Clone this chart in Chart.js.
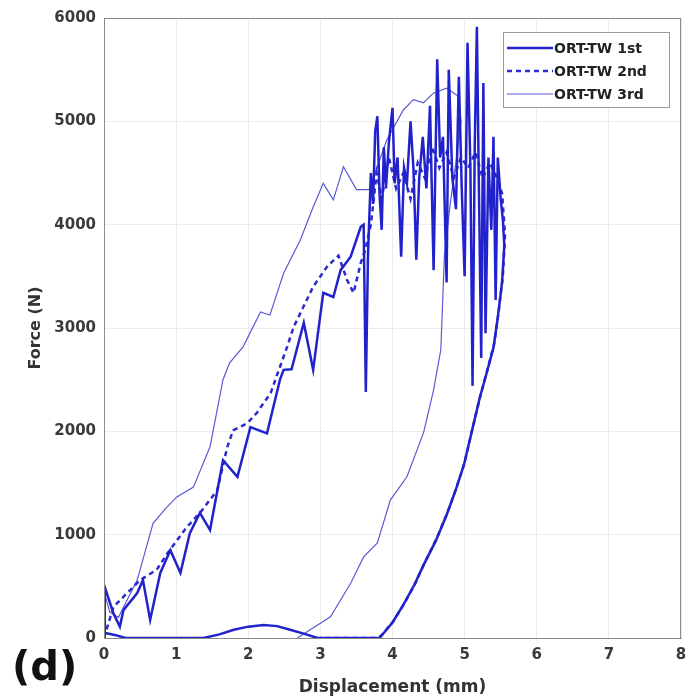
<!DOCTYPE html>
<html>
<head>
<meta charset="utf-8">
<script src="https://cdn.jsdelivr.net/npm/chart.js@4.4.0/dist/chart.umd.min.js"></script>
<style>
  html, body { margin: 0; padding: 0; background: #fff; }
  #wrap { width: 686px; height: 698px; position: relative; }
</style>
</head>
<body>
<div id="wrap"><canvas id="chart" width="686" height="698"></canvas></div>
<script>
// ORT-TW 1st (solid)
const disp1 = [0, 0.01, 0.13, 0.22, 0.27, 0.46, 0.54, 0.64, 0.78, 0.92, 1.06, 1.19, 1.33, 1.47, 1.65, 1.85, 2.03, 2.26, 2.44, 2.49, 2.6, 2.77, 2.9, 3.04, 3.18, 3.28, 3.42, 3.56,
  3.60, 3.63, 3.66, 3.70, 3.73, 3.76, 3.79, 3.82, 3.85, 3.88, 3.91, 3.95, 4.00, 4.03, 4.07, 4.12, 4.16, 4.20, 4.25, 4.29, 4.33, 4.37, 4.42, 4.47, 4.52, 4.57,
  4.62, 4.66, 4.70, 4.75, 4.78, 4.83, 4.88, 4.92, 4.96, 5.00, 5.04, 5.08, 5.11, 5.14, 5.17, 5.20, 5.23, 5.26, 5.29, 5.33, 5.37, 5.40, 5.43, 5.46, 5.50, 5.53, 5.55,
  5.52, 5.46, 5.40, 5.30, 5.21, 5.10, 4.99, 4.87, 4.75, 4.60, 4.43, 4.30, 4.15, 4.00, 3.82,
  2.96, 2.78, 2.58, 2.40, 2.21, 2.00, 1.80, 1.60, 1.38, 0.30, 0.15, 0];
const force1 = [0, 495, 240, 110, 270, 435, 560, 175, 630, 850, 630, 1015, 1210, 1045, 1720, 1560, 2040, 1980, 2500, 2595, 2600, 3050, 2595, 3340, 3300, 3560, 3690, 3980,
  4000, 2380, 3700, 4500, 4200, 4900, 5050, 4300, 3950, 4750, 4350, 4800, 5130, 4400, 4650, 3690, 4550, 4400, 5000, 4550, 3660, 4450, 4850, 4350, 5150, 3560,
  5600, 4650, 4850, 3440, 5500, 4450, 4150, 5430, 4350, 3500, 5760, 4550, 2440, 4750, 5915, 4250, 2710, 5370, 2950, 4650, 3950, 4850, 3270, 4650, 4250, 4050, 3800,
  3450, 3100, 2810, 2550, 2325, 2000, 1675, 1420, 1190, 940, 705, 510, 320, 150, 0,
  0, 40, 80, 115, 125, 110, 80, 35, 0, 0, 30, 50];

// ORT-TW 2nd (dashed)
const disp2 = [0, 0.13, 0.32, 0.5, 0.73, 0.88, 1.15, 1.33, 1.57, 1.71, 1.79, 1.99, 2.12, 2.31, 2.54, 2.63, 2.9, 3.1, 3.25, 3.37, 3.46, 3.56, 3.62,
  3.70, 3.78, 3.85, 3.95, 4.05, 4.15, 4.25, 4.35, 4.45, 4.55, 4.65, 4.75, 4.85, 4.95, 5.05, 5.15, 5.25, 5.35, 5.45, 5.52, 5.56,
  5.53, 5.47, 5.41, 5.31, 5.22, 5.11, 5.00, 4.88, 4.76, 4.61, 4.44, 4.31, 4.16, 4.01, 3.84, 3.75, 3.00];
const force2 = [0, 300, 435, 560, 660, 820, 1075, 1210, 1430, 1850, 2010, 2080, 2180, 2370, 2820, 3010, 3400, 3600, 3700, 3465, 3340, 3630, 3750,
  4000, 4500, 4250, 4650, 4350, 4500, 4250, 4600, 4450, 4750, 4550, 4700, 4450, 4650, 4550, 4700, 4450, 4600, 4450, 4300, 3900,
  3500, 3150, 2850, 2580, 2350, 2030, 1700, 1440, 1210, 960, 720, 520, 330, 160, 20, 0, 0];

// ORT-TW 3rd (thin)
const disp3 = [0, 0.08, 0.2, 0.33, 0.46, 0.68, 0.85, 1.01, 1.24, 1.47, 1.65, 1.74, 1.93, 2.17, 2.3, 2.49, 2.72, 2.9, 3.04, 3.18, 3.32, 3.5, 3.68, 3.92, 4.15, 4.29, 4.43, 4.57, 4.75, 4.9,
  4.95, 4.88, 4.8, 4.72, 4.67, 4.57, 4.43, 4.2, 3.97, 3.79, 3.6, 3.42, 3.14, 2.86, 2.68];
const force3 = [450, 250, 200, 380, 560, 1110, 1250, 1365, 1460, 1850, 2500, 2660, 2820, 3155, 3125, 3530, 3850, 4170, 4400, 4240, 4560, 4340, 4340, 4820, 5110, 5210, 5180, 5275, 5320, 5250,
  5000, 4600, 4200, 3700, 2790, 2400, 1985, 1560, 1335, 920, 785, 530, 205, 80, 0];

const seriesNames = ['ORT-TW 1st', 'ORT-TW 2nd', 'ORT-TW 3rd'];
const xTicks = [0, 1, 2, 3, 4, 5, 6, 7, 8];
const yTicks = [0, 1000, 2000, 3000, 4000, 5000, 6000];

function toPoints(xs, ys) {
  return xs.map((x, i) => ({ x: x, y: ys[i] }));
}

const FONT = 'DejaVu Sans';

const framePlugin = {
  id: 'frame',
  afterDraw(chart) {
    const ctx = chart.ctx;
    const a = chart.chartArea;
    ctx.save();
    ctx.strokeStyle = '#8a8a8a';
    ctx.lineWidth = 1;
    ctx.strokeRect(a.left + 0.5, a.top + 0.5, a.right - a.left - 1, a.bottom - a.top);

    // legend box inside plot, top right
    const bx = 503, by = 32, bw = 166, bh = 75;
    ctx.fillStyle = '#fff';
    ctx.fillRect(bx, by, bw, bh);
    ctx.strokeStyle = '#9a9a9a';
    ctx.strokeRect(bx + 0.5, by + 0.5, bw, bh);
    chart.data.datasets.forEach((ds, i) => {
      const y = by + 16 + i * 23;
      ctx.beginPath();
      ctx.strokeStyle = ds.borderColor;
      ctx.lineWidth = ds.borderWidth;
      ctx.setLineDash(ds.borderDash || []);
      ctx.moveTo(bx + 4, y);
      ctx.lineTo(bx + 50, y);
      ctx.stroke();
      ctx.setLineDash([]);
      ctx.fillStyle = '#222';
      ctx.font = 'bold 14px ' + FONT;
      ctx.textBaseline = 'middle';
      ctx.textAlign = 'left';
      ctx.fillText(ds.label, bx + 51, y + 1);
    });

    // panel label
    ctx.fillStyle = '#111';
    ctx.font = 'bold 40px ' + FONT;
    ctx.textBaseline = 'alphabetic';
    ctx.fillText('(d)', 12, 680);
    ctx.restore();
  }
};

new Chart(document.getElementById('chart'), {
  type: 'scatter',
  data: {
    datasets: [
      { label: seriesNames[0], data: toPoints(disp1, force1), showLine: true, borderColor: '#2222cc', borderWidth: 2.5, pointRadius: 0, tension: 0 },
      { label: seriesNames[1], data: toPoints(disp2, force2), showLine: true, borderColor: '#2a2ad0', borderWidth: 2.5, borderDash: [5, 4], pointRadius: 0, tension: 0 },
      { label: seriesNames[2], data: toPoints(disp3, force3), showLine: true, borderColor: '#5a5ad6', borderWidth: 1.2, pointRadius: 0, tension: 0 }
    ]
  },
  options: {
    responsive: false,
    animation: false,
    layout: { padding: { top: 18, right: 5, left: 0, bottom: 0 } },
    plugins: { legend: { display: false }, tooltip: { enabled: false } },
    scales: {
      x: {
        type: 'linear', min: 0, max: 8,
        afterBuildTicks: (s) => { s.ticks = xTicks.map(v => ({ value: v })); },
        afterFit: (s) => { s.height = 60; s.paddingLeft = 0; s.paddingRight = 0; },
        grid: { color: '#ececec', drawTicks: false },
        border: { display: true, color: '#8a8a8a' },
        ticks: { color: '#3a3a3a', padding: 8, font: { family: FONT, size: 15, weight: 'bold' } },
        title: { display: true, text: 'Displacement (mm)', color: '#333', padding: { top: 3, bottom: 0 }, font: { family: FONT, size: 17, weight: 'bold' } }
      },
      y: {
        min: 0, max: 6000,
        afterBuildTicks: (s) => { s.ticks = yTicks.map(v => ({ value: v })); },
        afterFit: (s) => { s.width = 104; s.paddingTop = 0; s.paddingBottom = 0; },
        grid: { color: '#ececec', drawTicks: false },
        border: { display: true, color: '#8a8a8a' },
        ticks: { color: '#3a3a3a', padding: 8, callback: (v) => String(v), font: { family: FONT, size: 15, weight: 'bold' } },
        title: { display: true, text: 'Force (N)', color: '#333', padding: { top: 26, bottom: 0 }, font: { family: FONT, size: 16, weight: 'bold' } }
      }
    }
  },
  plugins: [framePlugin]
});
</script>
</body>
</html>
